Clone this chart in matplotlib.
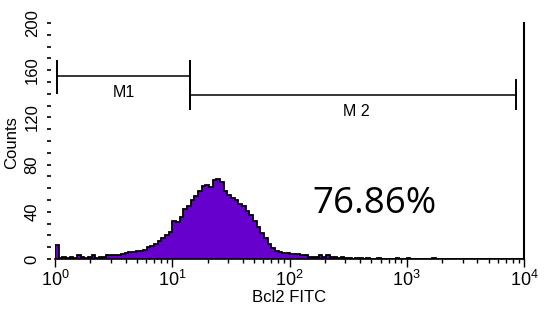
import numpy as np
import matplotlib
matplotlib.use("Agg")
import matplotlib.pyplot as plt
from matplotlib.ticker import MultipleLocator, LogLocator, NullFormatter

plt.rcParams['font.family'] = ['Liberation Sans', 'DejaVu Sans']
plt.rcParams['mathtext.default'] = 'regular'

# ── Data ─────────────────────────────────────────────────────────────────────
# 128 log-spaced channels from 10^0 to 10^4
counts = [
    12, 1, 2, 1, 2, 1, 3, 2, 1, 2, 3, 1, 2, 2, 3, 3,
    3, 3, 4, 5, 6, 6, 7, 7, 8, 10, 11, 13, 15, 18, 20, 23,
    32, 31, 36, 42, 45, 50, 53, 58, 62, 63, 61, 67, 68, 65, 58, 54,
    52, 50, 47, 45, 41, 37, 32, 27, 22, 18, 13, 9, 7, 6, 5, 5,
    4, 4, 4, 3, 3, 2, 2, 2, 3, 2, 3, 2, 2, 1, 2, 1,
    1, 0, 1, 1, 0, 1, 0, 0, 1, 0, 0, 0, 0, 1, 0, 0,
    1, 0, 0, 0, 0, 0, 0, 1, 0, 0, 0, 0, 0, 0, 0, 0,
    0, 0, 0, 0, 0, 0, 0, 0, 0, 0, 0, 0, 0, 0, 0, 0,
]
decades = (0, 4)

# gate markers
m1 = dict(x0=1.04, x1=14.3, y=155, label="M1", lab_x=3.9, lab_y=141)
m2 = dict(x0=14.3, x1=8530, y=139, label="M 2", lab_x=370, lab_y=125)
m1_ticks = [(141, 168), (127, 168)]
m2_ticks = [(127, 168), (127, 152)]

percent_text = "76.86%"

y_ticks = [0, 40, 80, 120, 160, 200]

PURPLE = "#6600cc"

# ── Figure ───────────────────────────────────────────────────────────────────
fig = plt.figure(figsize=(5.44, 3.2), dpi=100)
ax = fig.add_axes([55 / 544, 61 / 320, 469 / 544, 236 / 320])

edges = np.logspace(decades[0], decades[1], len(counts) + 1)
ax.stairs(counts, edges, fill=True, color=PURPLE, zorder=2)
ax.stairs(counts, edges, color="black", linewidth=1.3, zorder=3)

ax.set_xscale("log")
ax.set_xlim(10 ** decades[0], 10 ** decades[1])
ax.set_ylim(0, 200)

# spines: bottom + right only
ax.spines["top"].set_visible(False)
ax.spines["left"].set_visible(False)
ax.spines["left"].set_position(("outward", 3))
ax.spines["bottom"].set_linewidth(1.2)
ax.spines["right"].set_linewidth(1.5)

ax.yaxis.set_major_locator(MultipleLocator(40))
ax.yaxis.set_minor_locator(MultipleLocator(10))
ax.set_yticks(y_ticks)
ax.tick_params(axis="y", which="both", length=3, width=1.2, pad=5,
               labelsize=12, labelrotation=90, right=False)
for lab in ax.get_yticklabels():
    lab.set_va("center")

ax.xaxis.set_major_locator(LogLocator(base=10))
ax.xaxis.set_minor_locator(LogLocator(base=10, subs=np.arange(2, 10)))
ax.xaxis.set_minor_formatter(NullFormatter())
ax.tick_params(axis="x", which="major", length=6, width=1, labelsize=13, pad=2)
ax.tick_params(axis="x", which="minor", length=3, width=1)

ax.set_xlabel("Bcl2 FITC", fontsize=12, labelpad=0)
fig.text(12 / 544, 1 - 143 / 320, "Counts", rotation=90, ha="center",
         va="center", fontsize=12)

# ── M1 / M2 markers ──────────────────────────────────────────────────────────
for m, ticks in ((m1, m1_ticks), (m2, m2_ticks)):
    ax.plot([m["x0"], m["x1"]], [m["y"], m["y"]], color="black", lw=1.1,
            zorder=4, clip_on=False)
    ax.plot([m["x0"], m["x0"]], ticks[0], color="black", lw=1.4, zorder=4)
    ax.plot([m["x1"], m["x1"]], ticks[1], color="black", lw=1.4, zorder=4)
    ax.text(m["lab_x"], m["lab_y"], m["label"], ha="center", va="center",
            fontsize=11.5)

ax.text(536, 47, percent_text, ha="center", va="center", fontsize=26.5,
        family=["Open Sans", "DejaVu Sans"])

fig.savefig("out.png", dpi=100)
